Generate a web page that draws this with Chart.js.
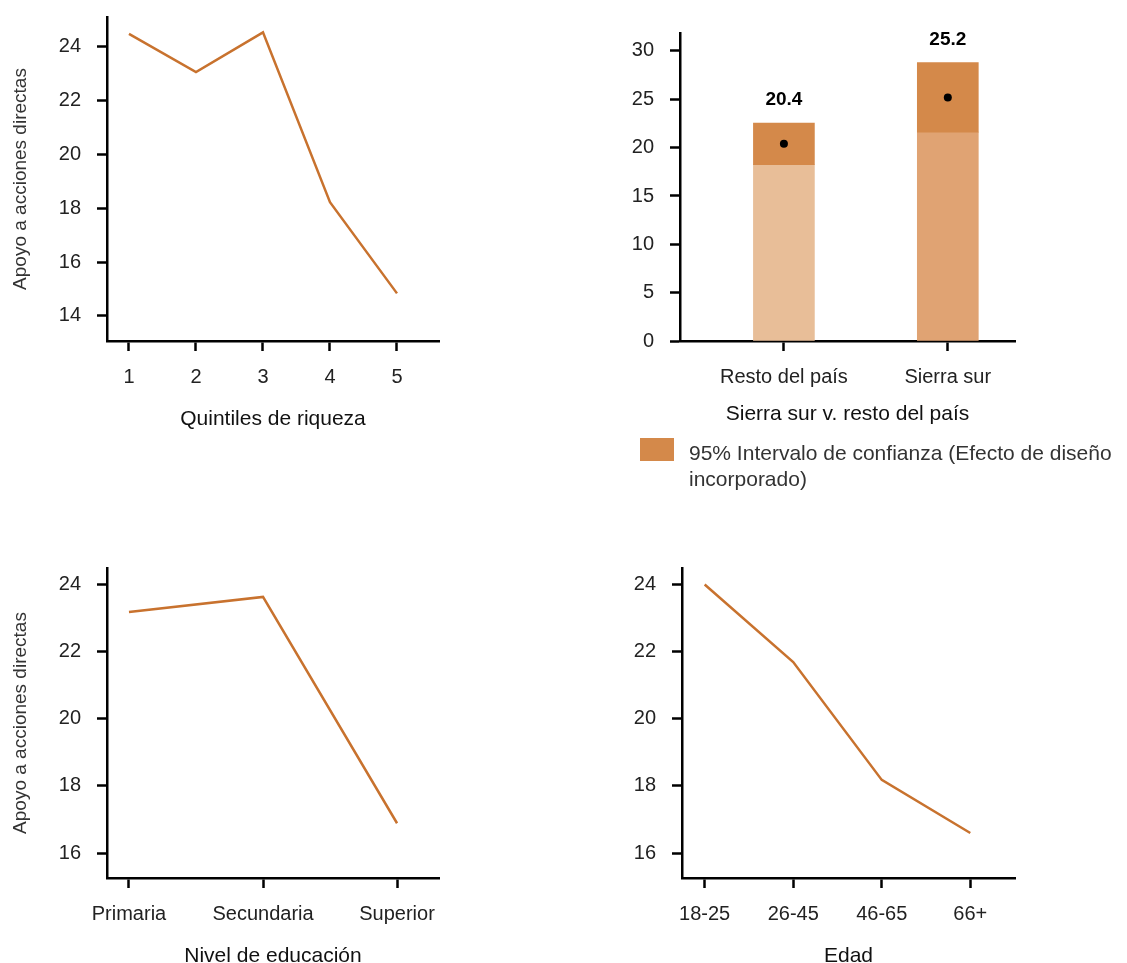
<!DOCTYPE html>
<html>
<head>
<meta charset="utf-8">
<script src="https://cdn.jsdelivr.net/npm/chart.js@4"></script>
<style>
    html, body { margin: 0; padding: 0; background: #fff; overflow: hidden; }
    body { width: 1127px; height: 963px; position: relative; font-family: 'Liberation Sans', Arial, sans-serif; }
    canvas { position: absolute; }
    #c1 { left: 0; top: 0; }
    #c2 { left: 600px; top: 0; }
    #c3 { left: 0; top: 500px; }
    #c4 { left: 600px; top: 500px; }
    .legend { position: absolute; left: 640px; top: 438px; display: flex; align-items: flex-start; }
    .legend .box { width: 34px; height: 23px; background: #D4894A; margin-right: 15px; flex-shrink: 0; }
    .legend .txt { font-size: 21px; line-height: 26px; color: #333; margin-top: 2px; white-space: nowrap; }
</style>
</head>
<body>
<canvas id="c1" width="450" height="440"></canvas>
<canvas id="c2" width="527" height="440"></canvas>
<canvas id="c3" width="450" height="470"></canvas>
<canvas id="c4" width="527" height="470"></canvas>
<div class="legend"><div class="box"></div><div class="txt">95% Intervalo de confianza (Efecto de diseño<br>incorporado)</div></div>

<script>
// --- DATA ---
const quintiles = ['1', '2', '3', '4', '5'];
const quintilValues = [24.48, 23.06, 24.54, 18.23, 14.84];
const quintilTicks = [14, 16, 18, 20, 22, 24];

const regions = ['Resto del país', 'Sierra sur'];
const regionMean = [20.4, 25.2];
const ciLow = [18.25, 21.6];
const ciHigh = [22.55, 28.8];
const regionTicks = [0, 5, 10, 15, 20, 25, 30];

const education = ['Primaria', 'Secundaria', 'Superior'];
const educationValues = [23.18, 23.63, 16.89];

const ages = ['18-25', '26-45', '46-65', '66+'];
const ageValues = [24.0, 21.69, 18.18, 16.6];

const lowerTicks = [16, 18, 20, 22, 24];

// --- STYLE ---
const LINE = '#C8722E';
const CI = '#D4894A';
const LOWER = ['#E8BE98', '#E0A373'];
const YTITLE = 'Apoyo a acciones directas';

Chart.defaults.font.family = "'Liberation Sans', Arial, sans-serif";
Chart.defaults.color = '#222';
Chart.defaults.animation = false;
Chart.defaults.events = [];
Chart.defaults.plugins.legend.display = false;
Chart.defaults.plugins.tooltip.enabled = false;

const pts = (vals) => vals.map((v, i) => ({ x: i, y: v }));

// scale sizes are pinned so the plot areas line up with the reference
function pin(size) {
    return s => {
        if (s.isHorizontal()) s.height = size; else s.width = size;
        s.paddingTop = s.paddingBottom = s.paddingLeft = s.paddingRight = 0;
    };
}

function xAxis(labels, min, max, title, height, titlePad) {
    return {
        type: 'linear', min, max,
        offset: false,
        afterBuildTicks: s => { s.ticks = labels.map((_, i) => ({ value: i })); },
        afterFit: pin(height),
        ticks: { callback: v => labels[v], font: { size: 20 }, padding: 14, maxRotation: 0, autoSkip: false },
        grid: { offset: false, drawOnChartArea: false, tickLength: 10, tickColor: '#000', tickWidth: 2.5 },
        border: { color: '#000', width: 2.5 },
        title: { display: true, text: title, font: { size: 21 }, color: '#111', padding: { top: 0, bottom: titlePad } }
    };
}

function yAxis(tickVals, min, max, width, showTitle) {
    return {
        min, max,
        afterBuildTicks: s => { s.ticks = tickVals.map(v => ({ value: v })); },
        afterFit: pin(width),
        ticks: { font: { size: 20 }, padding: 16 },
        grid: { drawOnChartArea: false, tickLength: 10, tickColor: '#000', tickWidth: 2.5 },
        border: { color: '#000', width: 2.5 },
        title: { display: showTitle, text: YTITLE, font: { size: 19 }, color: '#333', padding: { top: 9, bottom: 0 } }
    };
}

function lineChart(id, labels, values, x, y, padding) {
    new Chart(document.getElementById(id), {
        type: 'line',
        data: {
            datasets: [{
                data: pts(values),
                borderColor: LINE,
                borderWidth: 2.5,
                pointRadius: 0,
                tension: 0
            }]
        },
        options: {
            responsive: false,
            layout: { padding },
            scales: { x, y }
        }
    });
}

// Top left: wealth quintiles
lineChart('c1', quintiles, quintilValues,
    xAxis(quintiles, -0.328, 4.627, 'Quintiles de riqueza', 99, 8),
    yAxis(quintilTicks, 13.07, 25.11, 107, true),
    { top: 17, right: 11, left: 0, bottom: 0 });

// Bottom left: education
lineChart('c3', education, educationValues,
    xAxis(education, -0.164, 2.313, 'Nivel de educación', 92, 1),
    yAxis(lowerTicks, 15.26, 24.49, 107, true),
    { top: 68, right: 11, left: 0, bottom: 0 });

// Bottom right: age
lineChart('c4', ages, ageValues,
    xAxis(ages, -0.256, 3.505, 'Edad', 92, 1),
    yAxis(lowerTicks, 15.26, 24.49, 82, false),
    { top: 68, right: 112, left: 0, bottom: 0 });

// Top right: Sierra sur vs resto del país
const valueLabels = {
    id: 'valueLabels',
    afterDatasetsDraw(chart) {
        const { ctx, scales: { x, y } } = chart;
        ctx.save();
        ctx.font = "bold 19px 'Liberation Sans', Arial, sans-serif";
        ctx.fillStyle = '#000';
        ctx.textAlign = 'center';
        ctx.textBaseline = 'middle';
        regionMean.forEach((m, i) => {
            ctx.fillText(m.toFixed(1), x.getPixelForValue(i), y.getPixelForValue(ciHigh[i]) - 23);
        });
        ctx.restore();
    }
};

new Chart(document.getElementById('c2'), {
    type: 'bar',
    data: {
        datasets: [
            {
                data: ciLow.map((v, i) => ({ x: i, y: [0, v] })),
                backgroundColor: LOWER,
                barThickness: 61,
                grouped: false,
                order: 2
            },
            {
                data: ciLow.map((v, i) => ({ x: i, y: [v, ciHigh[i]] })),
                backgroundColor: CI,
                barThickness: 61,
                grouped: false,
                order: 1
            },
            {
                type: 'scatter',
                data: pts(regionMean),
                pointRadius: 4,
                pointBackgroundColor: '#000',
                pointBorderWidth: 0,
                order: 0
            }
        ]
    },
    options: {
        responsive: false,
        layout: { padding: { top: 33, right: 112, left: 0, bottom: 0 } },
        scales: {
            x: xAxis(regions, -0.634, 1.41, 'Sierra sur v. resto del país', 99, 13),
            y: yAxis(regionTicks, 0, 31.86, 80, false)
        }
    },
    plugins: [valueLabels]
});
</script>
</body>
</html>
